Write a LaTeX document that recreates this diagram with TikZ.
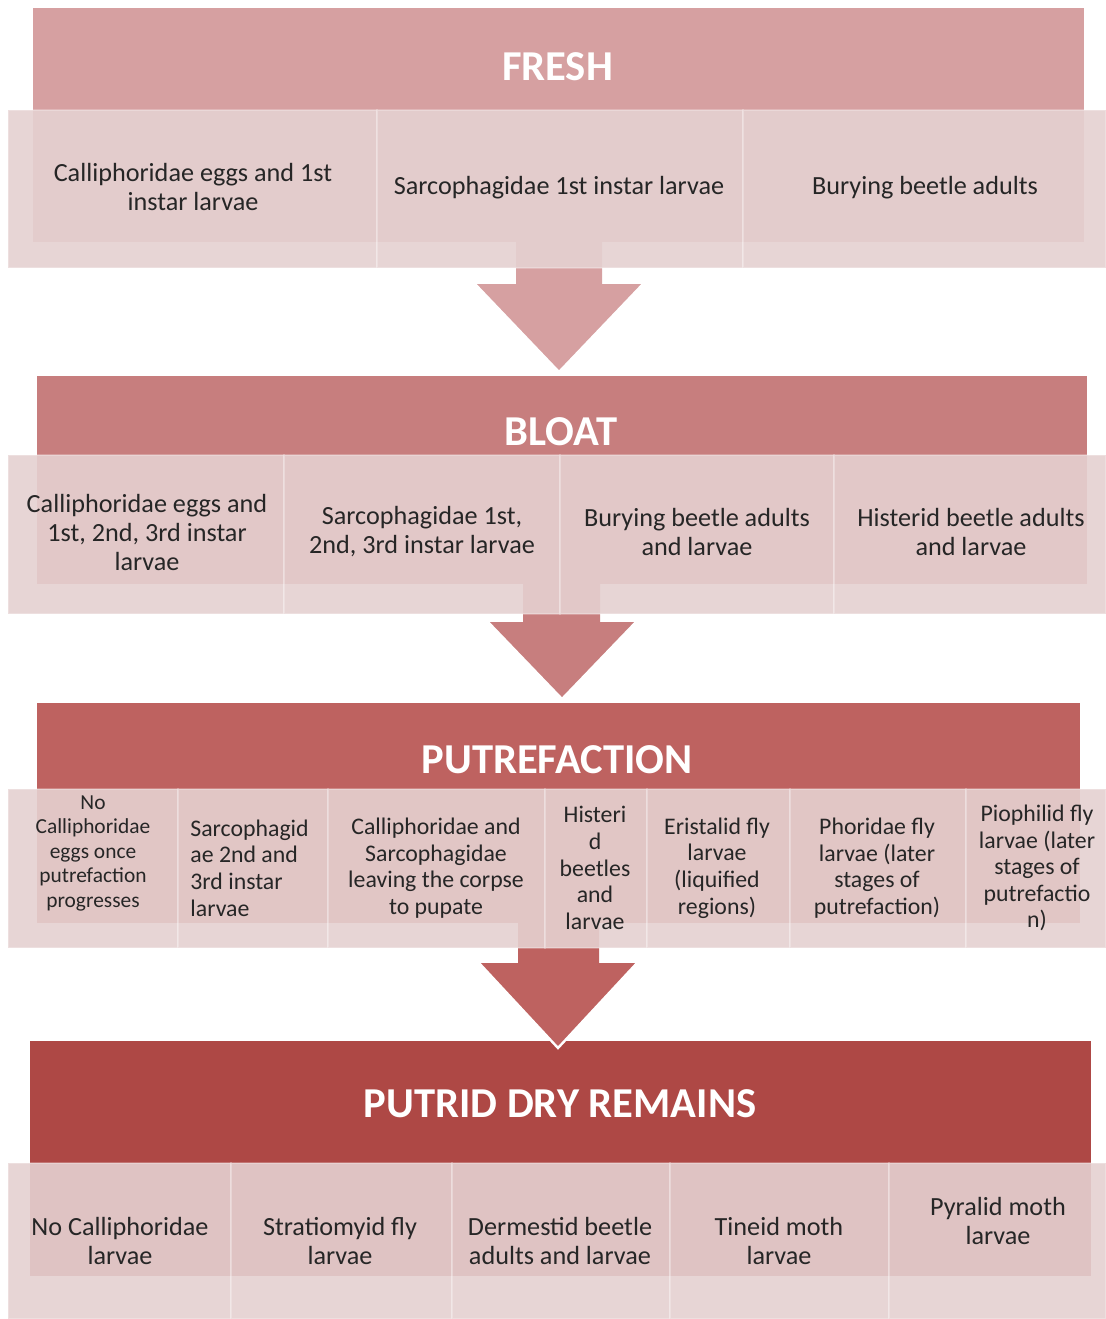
\documentclass[tikz,border=0pt]{standalone}
\usepackage{fontspec}
\setmainfont{Carlito}
\begin{document}
\begin{tikzpicture}[x=0.5pt,y=-0.5pt]
\definecolor{hA}{RGB}{214,160,161}
\definecolor{hB}{RGB}{199,126,126}
\definecolor{hC}{RGB}{190,98,96}
\definecolor{hD}{RGB}{174,72,69}
\definecolor{cellc}{RGB}{229,209,209}
\definecolor{txt}{RGB}{38,38,38}
\tikzset{
  cellbox/.style={fill=cellc, fill opacity=0.9, draw=white, draw opacity=0.25, line width=1pt},
  tipline/.style={draw=white, line width=1.2pt, line join=miter},
  head/.style={text=white, font=\fontsize{21.3}{25}\selectfont\bfseries, anchor=base, inner sep=0pt},
  lbl/.style={text=txt, font=\fontsize{13.1}{14.5}\selectfont, align=center, inner sep=0pt},
  lblp/.style={text=txt, font=\fontsize{11.9}{13.3}\selectfont, align=center, inner sep=0pt},
  lbls/.style={text=txt, font=\fontsize{10.7}{12.25}\selectfont, align=center, inner sep=0pt},
}
\useasboundingbox (0,0) rectangle (1106,1319);
\fill[white] (0,0) rectangle (1106,1319);

% headers (extended behind cells)
\fill[hA] (33,8) rectangle (1084,242);
\fill[hB] (37,376) rectangle (1087,584);
\fill[hC] (37,703) rectangle (1080,923);
\fill[hD] (30,1041) rectangle (1091,1276);

% block arrows
\fill[hA] (516,236) -- (516,284) -- (475,284) -- (559,372) -- (643,284) -- (602,284) -- (602,236) -- cycle;
\draw[tipline] (475,284) -- (559,372) -- (643,284);
\fill[hB] (523,578) -- (523,622) -- (488,622) -- (562,699) -- (636,622) -- (600,622) -- (600,578) -- cycle;
\draw[tipline] (488,622) -- (562,699) -- (636,622);
\fill[hC] (518,918) -- (518,963) -- (479,963) -- (558,1048) -- (637,963) -- (599,963) -- (599,918) -- cycle;
\draw[tipline] (479,963) -- (558,1048) -- (637,963);

% cells: FRESH
\foreach \a/\b in {8/377, 377/743, 743/1106}
  \filldraw[cellbox] (\a,110) rectangle (\b,268);
% cells: BLOAT
\foreach \a/\b in {8/284, 284/560, 560/834, 834/1106}
  \filldraw[cellbox] (\a,455) rectangle (\b,614);
% cells: PUTREFACTION
\foreach \a/\b in {8/178, 178/328, 328/545, 545/647, 647/790, 790/966, 966/1106}
  \filldraw[cellbox] (\a,789) rectangle (\b,948);
% cells: PUTRID DRY REMAINS
\foreach \a/\b in {8/231, 231/452, 452/670, 670/889, 889/1106}
  \filldraw[cellbox] (\a,1163) rectangle (\b,1319);

% header texts
\node[head] (hfresh) at (557.5,80) {FRESH};
\node[head] (hbloat) at (561,445) {BLOAT};
\node[head] (hputre) at (557,773) {PUTREFACTION};
\node[head] (hputrid) at (560,1117) {PUTRID DRY REMAINS};

% FRESH texts
\node[lbl] (f1) at (193,187) {Calliphoridae eggs and 1st\\instar larvae};
\node[lbl] (f2) at (559,188) {Sarcophagidae 1st instar larvae};
\node[lbl] (f3) at (925,188) {Burying beetle adults};

% BLOAT texts
\node[lbl] (b1) at (147,532) {Calliphoridae eggs and\\1st, 2nd, 3rd instar\\larvae};
\node[lbl] (b2) at (422,532) {Sarcophagidae 1st,\\2nd, 3rd instar larvae};
\node[lbl] (b3) at (697,532) {Burying beetle adults\\and larvae};
\node[lbl] (b4) at (971,532) {Histerid beetle adults\\and larvae};

% PUTREFACTION texts
\node[lbls] (p1) at (93,853) {No\\Calliphoridae\\eggs once\\putrefaction\\progresses};
\node[lblp, align=left, anchor=west] (p2) at (190,868) {Sarcophagid\\ae 2nd and\\3rd instar\\larvae};
\node[lblp] (p3) at (436,868) {Calliphoridae and\\Sarcophagidae\\leaving the corpse\\to pupate};
\node[lblp] (p4) at (595,868) {Histeri\\d\\beetles\\and\\larvae};
\node[lblp] (p5) at (717,868) {Eristalid fly\\larvae\\(liquified\\regions)};
\node[lblp] (p6) at (877,868) {Phoridae fly\\larvae (later\\stages of\\putrefaction)};
\node[lblp] (p7) at (1037,868) {Piophilid fly\\larvae (later\\stages of\\putrefactio\\n)};

% PUTRID DRY REMAINS texts
\node[lbl] (d1) at (120,1241) {No Calliphoridae\\larvae};
\node[lbl] (d2) at (340,1241) {Stratiomyid fly\\larvae};
\node[lbl] (d3) at (560,1241) {Dermestid beetle\\adults and larvae};
\node[lbl] (d4) at (779,1241) {Tineid moth\\larvae};
\node[lbl] (d5) at (998,1221) {Pyralid moth\\larvae};
\end{tikzpicture}
\end{document}
